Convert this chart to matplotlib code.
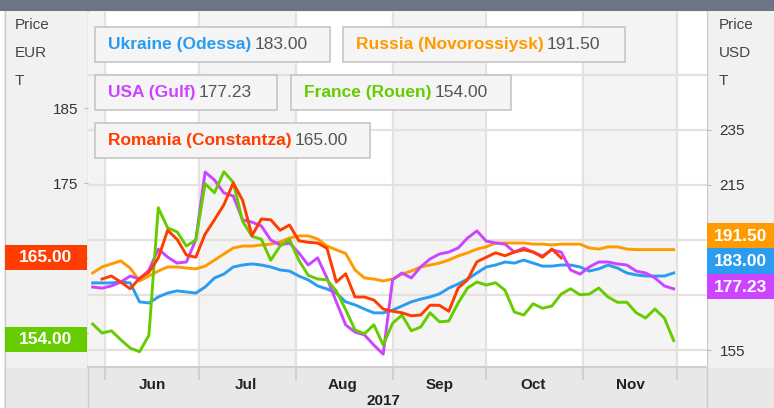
import matplotlib
matplotlib.use("Agg")
import matplotlib.pyplot as plt
import matplotlib.dates as mdates
from matplotlib.patches import Rectangle
from matplotlib.lines import Line2D
import numpy as np
import pandas as pd

plt.rcParams["font.family"] = ["Liberation Sans", "DejaVu Sans"]

W, H = 774, 408
nan = np.nan

# one reading every 3 days, 28 May - 30 Nov 2017
dates = pd.date_range("2017-05-28", "2017-11-30", freq="3D")

# USD / t
ukraine = [179.4, 179.4, 179.4, 179.7, 179.4, 172.5, 172.1, 174.3, 175.7, 176.5,
           176.1, 175.7, 177.9, 181.2, 182.6, 185.2, 185.9, 186.3, 185.9, 185.2,
           184.1, 183.7, 181.9, 180.5, 178.3, 177.2, 175.7, 172.5, 171.4, 169.9,
           168.5, 168.5, 169.5, 171.0, 172.5, 173.5, 174.3, 175.4, 177.5, 179.0,
           180.8, 183.0, 185.2, 185.9, 187.0, 186.6, 187.7, 186.6, 185.5, 185.5,
           185.9, 185.9, 185.2, 183.7, 184.5, 185.9, 184.8, 183.0, 182.3, 181.9,
           181.9, 181.9, 183.0]
russia = [183.0, 185.2, 186.3, 187.4, 184.8, 180.1, 181.9, 183.7, 185.2, 185.2,
          184.8, 184.5, 185.5, 187.7, 189.9, 192.1, 192.8, 192.8, 193.2, 193.5,
          194.3, 195.7, 196.5, 196.5, 195.4, 192.8, 191.4, 190.1, 184.1, 181.2,
          180.8, 180.1, 180.8, 182.6, 183.7, 185.2, 185.9, 186.6, 187.7, 189.2,
          190.3, 191.7, 192.5, 193.9, 193.9, 193.9, 193.9, 193.5, 193.5, 193.2,
          193.5, 193.5, 193.5, 192.1, 191.7, 192.5, 192.5, 191.7, 191.5, 191.5,
          191.5, 191.5, 191.5]
usa = [177.9, 177.5, 178.3, 179.7, 181.9, 180.8, 184.0, 191.7, 188.8, 186.6,
       187.0, 195.0, 219.7, 216.8, 212.1, 211.0, 202.3, 201.5, 200.1, 195.0,
       193.2, 193.9, 190.3, 185.9, 188.5, 181.2, 172.5, 164.1, 161.5, 160.5,
       156.8, 153.5, 180.5, 183.0, 181.2, 185.2, 188.1, 189.9, 190.6, 192.1,
       195.7, 198.3, 194.6, 193.9, 193.5, 190.6, 192.1, 190.6, 189.2, 191.4,
       190.6, 184.1, 182.6, 185.2, 187.0, 187.0, 186.3, 185.9, 183.7, 183.0,
       181.2, 178.3, 177.23]
# EUR / t
france = [156.2, 155.0, 155.3, 154.1, 153.0, 152.5, 154.7, 171.7, 169.0, 168.5,
          166.6, 167.4, 174.9, 173.7, 176.5, 175.1, 169.9, 167.9, 167.5, 164.7,
          166.6, 167.5, 164.7, 162.7, 162.2, 162.1, 160.6, 158.1, 155.4, 154.9,
          156.1, 153.4, 156.3, 157.4, 155.3, 155.8, 157.7, 156.5, 156.6, 159.0,
          161.0, 161.8, 161.4, 161.7, 160.7, 157.8, 157.4, 158.9, 158.3, 158.6,
          160.2, 160.9, 160.1, 160.2, 161.0, 159.8, 159.1, 159.1, 157.7, 157.0,
          158.2, 157.0, 154.0]
romania = [nan, 162.2, 162.6, 161.8, 160.9, 162.3, 163.1, 165.0, 168.7, 167.5,
           165.4, 165.1, 168.2, 170.1, 172.1, 175.0, 172.7, 168.0, 170.2, 170.1,
           168.7, 169.4, 167.3, 167.1, 167.0, 166.3, 161.8, 162.9, 159.8, 159.8,
           159.4, 158.2, 157.9, 157.7, 157.3, 157.4, 158.7, 158.7, 157.9, 161.0,
           162.1, 164.5, 165.1, 165.7, 165.3, 165.8, 166.1, 165.8, 165.1, 166.2,
           165.0, nan, nan, nan, nan, nan, nan, nan, nan, nan,
           nan, nan, nan]

usd_ticks = [155, 175, 195, 215, 235]
usd_labels = ["155", "", "", "215", "235"]      # the others sit under the value flags
eur_ticks = [155, 165, 175, 185]
eur_labels = ["", "", "175", "185"]

C_UA, C_RU, C_US = "#2b9cf0", "#ff9a00", "#cc44ff"
C_FR, C_RO = "#66cc00", "#ff3d00"
GRID = "#e6e1dd"

fig = plt.figure(figsize=(W / 100, H / 100), dpi=100, facecolor="#f1f1f1")


def fx(x):
    return x / W


def fy(y):
    return 1 - y / H


def box(x0, y0, x1, y1, **kw):
    r = Rectangle((fx(x0), fy(y1)), fx(x1) - fx(x0), fy(y0) - fy(y1),
                  transform=fig.transFigure, **kw)
    fig.add_artist(r)


# widget frame
box(0, 0, W, 11, fc="#6b7586", ec="none", zorder=10)
box(0, 11, 4, H, fc="white", ec="none", zorder=-2)
box(4, 368, W, H, fc="#e8e8e8", ec="none", zorder=-2)
for x in (4.5, 87.5, 706.5):
    fig.add_artist(Line2D([fx(x)] * 2, [fy(11), 0], transform=fig.transFigure,
                          color="#cccccc", lw=1, zorder=-1))

# USD axis below, EUR axis on top
ax = fig.add_axes([fx(88), fy(367), fx(707) - fx(88), fy(12) - fy(367)])
ax.set_facecolor("white")
ax2 = ax.twinx()
ax.yaxis.tick_right()
ax2.yaxis.tick_left()

ax.set_xlim(pd.Timestamp("2017-05-26 12:00"), pd.Timestamp("2017-12-10 16:00"))
months = pd.date_range("2017-05-01", "2018-01-01", freq="MS")
for a, b in zip(months[:-1], months[1:]):
    if a.month % 2 == 1:
        ax.axvspan(a, b, color="#f4f4f4", lw=0, zorder=0)
for m in months[1:-1]:
    ax.axvline(m, color=GRID, lw=1.6, zorder=0.5)
for v in range(155, 256, 20):
    ax.axhline(v, color=GRID, lw=1.6, zorder=0.5)

ax.plot(dates, ukraine, color=C_UA, lw=2.1, zorder=2)
ax.plot(dates, russia, color=C_RU, lw=2.1, zorder=2)
ax.plot(dates, usa, color=C_US, lw=2.1, zorder=2)
ax2.plot(dates, france, color=C_FR, lw=2.1)
ax2.plot(dates, romania, color=C_RO, lw=2.1)

ax.set_ylim(148.82, 277.9)
ax.set_yticks(usd_ticks, usd_labels)
ax2.set_ylim(150.47, 197.8)
ax2.set_yticks(eur_ticks, eur_labels)
ax.tick_params(axis="y", length=3, color="#bbbbbb", labelcolor="#333333",
               labelsize=11, pad=6)
ax2.tick_params(axis="y", length=3, color="#bbbbbb", labelcolor="#333333",
                labelsize=11, pad=4)
for a in (ax, ax2):
    for s in a.spines.values():
        s.set_visible(False)
ax.spines["bottom"].set_visible(True)
ax.spines["bottom"].set_color("#cfcfcf")
ax.spines["bottom"].set_linewidth(1.5)

ax.xaxis.set_major_locator(mdates.MonthLocator())
ax.xaxis.set_major_formatter(plt.NullFormatter())
ax.xaxis.set_minor_locator(mdates.MonthLocator(bymonthday=16))
ax.xaxis.set_minor_formatter(mdates.DateFormatter("%b"))
ax.tick_params(axis="x", which="major", length=9, width=1.2, color="#cccccc")
ax.tick_params(axis="x", which="minor", length=0, pad=8, labelsize=11,
               labelcolor="#222222")
for t in ax.get_xticklabels(minor=True):
    t.set_fontweight("bold")
fig.text(fx(383), fy(401), "2017", ha="center", va="center", fontsize=11,
         fontweight="bold", color="#222222")

# axis titles
for i, s in enumerate(["Price", "EUR", "T"]):
    fig.text(fx(15), fy(25 + 28 * i), s, ha="left", va="center", fontsize=11, color="#444444")
for i, s in enumerate(["Price", "USD", "T"]):
    fig.text(fx(719), fy(25 + 28 * i), s, ha="left", va="center", fontsize=11, color="#444444")


def last(vals):
    return [v for v in vals if not np.isnan(v)][-1]


# last-value flags on the axes
flags = [((5, 245, 87, 270), romania, C_RO), ((5, 327, 87, 352), france, C_FR),
         ((707, 223, 774, 248), russia, C_RU), ((707, 248, 774, 274), ukraine, C_UA),
         ((707, 274, 774, 299), usa, C_US)]
for (x0, y0, x1, y1), vals, col in flags:
    box(x0, y0, x1, y1, fc=col, ec="none", zorder=5)
    fig.text(fx((x0 + x1) / 2), fy((y0 + y1) / 2 + 0.5), f"{last(vals):.2f}", ha="center",
             va="center", fontsize=12.5, fontweight="bold", color="white", zorder=6)

# legend boxes
entries = [("Ukraine (Odessa)", ukraine, C_UA, (95, 27, 330, 62)),
           ("Russia (Novorossiysk)", russia, C_RU, (343, 27, 625, 62)),
           ("USA (Gulf)", usa, C_US, (95, 75, 277, 110)),
           ("France (Rouen)", france, C_FR, (291, 75, 511, 110)),
           ("Romania (Constantza)", romania, C_RO, (95, 123, 370, 158))]
renderer = fig.canvas.get_renderer()
for name, vals, col, (x0, y0, x1, y1) in entries:
    box(x0, y0, x1, y1, fc="#f5f5f5", ec="#c6c6c6", lw=1.2, zorder=5)
    yc = fy((y0 + y1) / 2)
    t = fig.text(fx(x0 + 13), yc, name, ha="left", va="center", fontsize=12.5,
                 fontweight="bold", color=col, zorder=6)
    bb = t.get_window_extent(renderer)
    fig.text((bb.x1 + 3) / fig.bbox.width, yc, f"{last(vals):.2f}", ha="left",
             va="center", fontsize=12.5, color="#555555", zorder=6)

fig.savefig("out.png", dpi=100, facecolor=fig.get_facecolor())
